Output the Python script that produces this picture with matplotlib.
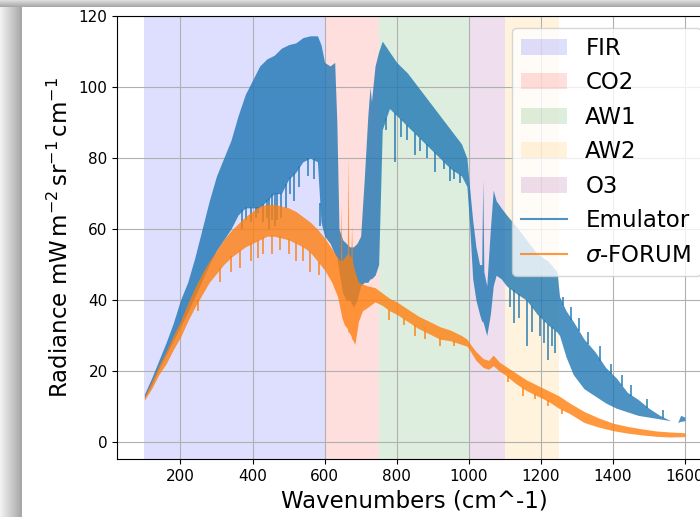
import numpy as np
import matplotlib
matplotlib.use("Agg")
import matplotlib.pyplot as plt
from matplotlib.lines import Line2D
from matplotlib.patches import Rectangle

# Emulator spectrum: envelope (upper / lower edge of the band)
emu_wn = [100, 120, 140, 160, 180, 200, 220, 240, 260, 280, 300, 320, 340, 360, 380,
          400, 420, 440, 460, 480, 500, 520, 540, 560, 580, 590, 600, 615, 628, 634,
          640, 650, 660, 670, 680, 690, 700, 710, 720, 726, 730, 740, 750, 760, 780,
          800, 830, 860, 890, 920, 950, 980, 995, 1002, 1011, 1020, 1030, 1036, 1039,
          1042, 1050, 1060, 1068, 1076, 1090, 1105, 1130, 1160, 1190, 1220, 1245, 1252,
          1270, 1290, 1320, 1350, 1380, 1410, 1440, 1470, 1500, 1530, 1560, 1580, 1588,
          1600]
emu_hi = [13.5, 18, 23, 28, 33.5, 40, 45, 52, 60, 68, 75, 80, 85, 92, 98,
          102, 106, 108, 109, 111, 112, 112.5, 114, 114.5, 114.5, 112, 107, 106, 107, 90,
          60, 57, 56, 55, 55, 56, 58, 74, 92, 100, 96, 106, 110, 113, 110,
          107, 104, 100, 96, 92, 88, 84, 80, 72, 62.5, 55, 50, 50, 74,
          48, 44, 60, 71, 68, 66, 64, 61, 57, 53, 51, 48, 41,
          37, 34, 29, 25.5, 21, 18, 14, 12, 9.5, 7.5, 6, 5.5, 7.5,
          7]
emu_lo = [12.5, 16, 20.5, 24.5, 28.5, 32.5, 36.5, 41, 45.5, 50, 54, 57, 60, 64, 66,
          66, 66, 68, 70, 70, 74, 76, 79, 80, 79, 62, 58, 56, 53, 52,
          48, 42, 40, 40, 38, 40, 44, 45, 45, 46, 46, 47, 50, 88, 94,
          92, 89, 86, 83, 80, 77, 75, 72, 62, 46, 40, 36, 34, 34,
          33, 30, 36, 44, 47, 46, 44, 42, 40, 36, 33, 31, 30,
          24, 19, 15, 13, 11, 9.5, 8.5, 7.5, 7, 6.5, 6, 5.5, 5.8,
          6]
# narrow absorption dips of the emulator below the band
emu_dip_wn = [372, 383, 395, 410, 416, 428, 440, 446, 455, 462, 467, 478, 492, 505,
              515, 530, 555, 570, 587, 770, 796, 812, 830, 852, 866, 883, 906, 930,
              948, 960, 975, 1115, 1125, 1140, 1162, 1175, 1197, 1210, 1220, 1232, 1240]
emu_dip_lo = [60, 62.6, 62, 63, 64.5, 62, 63, 60, 62.5, 61, 62.6, 63, 66, 70,
              68, 72, 75, 74, 61, 88, 79, 86, 85, 81, 82, 80, 76, 77,
              73.5, 74, 73, 38, 33.5, 35, 27, 31, 30, 28, 23.2, 27, 25]
# narrow emission spikes above the band
emu_peak_wn = [1262, 1285, 1305, 1330, 1365, 1395, 1425, 1450, 1495, 1540]
emu_peak_hi = [41, 38, 35, 31, 27, 22, 19, 16, 12, 9]

# sigma-FORUM spectrum
forum_wn = [100, 120, 140, 160, 180, 200, 220, 240, 260, 280, 300, 320, 340, 360, 380,
            400, 420, 440, 460, 480, 500, 520, 540, 560, 580, 600, 620, 636, 644, 646,
            648, 655, 663, 665, 667, 673, 675, 677, 684, 694, 705, 720, 740, 760, 780,
            800, 830, 860, 890, 920, 950, 980, 995, 1005, 1020, 1040, 1055, 1068, 1085,
            1100, 1130, 1160, 1190, 1220, 1250, 1280, 1320, 1360, 1400, 1440, 1480, 1520,
            1560, 1600]
forum_hi = [12.8, 17, 21.5, 25.5, 30, 34, 39, 43.5, 47.5, 51, 54, 57, 59.5, 61.5, 63.5,
            65, 66.5, 67, 67, 66.5, 66, 65, 63.5, 62, 60, 57.5, 54.5, 52, 51, 67,
            51, 52, 53, 81, 53, 52, 61, 51, 48, 45, 44.5, 44, 43.5, 42, 40.5,
            39.5, 37.5, 35.5, 34, 32.5, 31.5, 30, 29, 27.5, 25.5, 23.5, 23, 24.5, 22.5,
            21.5, 19.5, 17.5, 16, 14.5, 13, 11, 8.6, 6.8, 5.3, 4.4, 3.7, 3.1,
            2.8, 2.6]
forum_lo = [11.8, 15, 19, 22, 26, 29.5, 34, 38, 41.5, 45, 47.5, 50, 52, 53.5, 55,
            56, 57, 58, 58, 57.5, 57, 56, 55, 53.5, 51, 48.5, 45, 41, 37, 36,
            35, 33, 32, 31, 31, 30, 29, 29, 27.5, 34, 37, 38, 39.5, 38.5, 37,
            36, 34, 32, 30.5, 29, 28.5, 27.5, 27, 25.5, 23, 21, 20.5, 21.5, 20,
            19, 16.5, 14.5, 13, 11.5, 9.5, 8, 5.5, 4.2, 3.2, 2.5, 2.0, 1.6,
            1.4, 1.5]
forum_dip_wn = [250, 310, 340, 365, 395, 415, 430, 455, 475, 500, 520, 540, 560, 585,
                780, 820, 850, 880, 920, 960, 1110, 1150, 1185, 1220, 1260]
forum_dip_lo = [37, 45, 48, 49, 51, 52, 53, 53, 54, 53, 51, 51, 48, 47,
                34.5, 33, 30, 29, 27, 27, 17, 13, 12, 10, 8]

# spectral regions
regions = ["FIR", "CO2", "AW1", "AW2", "O3"]
region_start = [100, 600, 750, 1100, 1000]
region_end = [600, 750, 1000, 1250, 1100]
region_color = ["blue", "red", "green", "orange", "purple"]

xticks = [200, 400, 600, 800, 1000, 1200, 1400, 1600]
yticks = [0, 20, 40, 60, 80, 100, 120]

fig = plt.figure(figsize=(7, 5.17), dpi=100)
ax = fig.add_axes([0.1677, 0.1122, 0.8494, 0.8563])

handles = []
for name, a, b, c in zip(regions, region_start, region_end, region_color):
    handles.append(ax.axvspan(a, b, color=c, alpha=0.13, lw=0, label=name))

blue = "tab:blue"
orange = "tab:orange"

ax.fill_between(emu_wn, emu_lo, emu_hi, color=blue, alpha=0.8, lw=0, zorder=2)
ax.vlines(emu_dip_wn, emu_dip_lo, np.interp(emu_dip_wn, emu_wn, emu_lo) + 0.3,
          color=blue, alpha=0.8, lw=1.3, zorder=2)
ax.vlines(emu_peak_wn, np.interp(emu_peak_wn, emu_wn, emu_hi) - 0.3, emu_peak_hi,
          color=blue, alpha=0.8, lw=1.3, zorder=2)
ax.fill_between(forum_wn, forum_lo, forum_hi, color=orange, alpha=0.8, lw=0, zorder=2.1)
ax.vlines(forum_dip_wn, forum_dip_lo, np.interp(forum_dip_wn, forum_wn, forum_lo) + 0.3,
          color=orange, alpha=0.8, lw=1.3, zorder=2.1)

handles.append(Line2D([], [], color=blue, alpha=0.8, lw=1.5))
handles.append(Line2D([], [], color=orange, alpha=0.8, lw=1.5))
labels = regions + ["Emulator", r"$\sigma$-FORUM"]

ax.set_xlim(25, 1675)
ax.set_ylim(-4.8, 120)
ax.set_xticks(xticks)
ax.set_yticks(yticks)
ax.tick_params(labelsize=11)
ax.grid(True)
ax.set_xlabel("Wavenumbers (cm^-1)", fontsize=16.5)
ax.set_ylabel(r"Radiance $\mathrm{mW\,m^{-2}\,sr^{-1}\,cm^{-1}}$", fontsize=16.5)
ax.legend(handles, labels, loc="upper right", fontsize=16.5)

# grey screenshot frame on the left and top
for i in range(22):
    g = 0.95 - 0.30 * i / 21
    fig.add_artist(Rectangle((i, 0), 1, 517, color=(g, g, g), transform=None, lw=0))
for j in range(7):
    g = 0.86 - 0.20 * j / 6
    fig.add_artist(Rectangle((0, 516 - j), 700, 1, color=(g, g, g), transform=None, lw=0))

plt.savefig("out.png", dpi=100)
